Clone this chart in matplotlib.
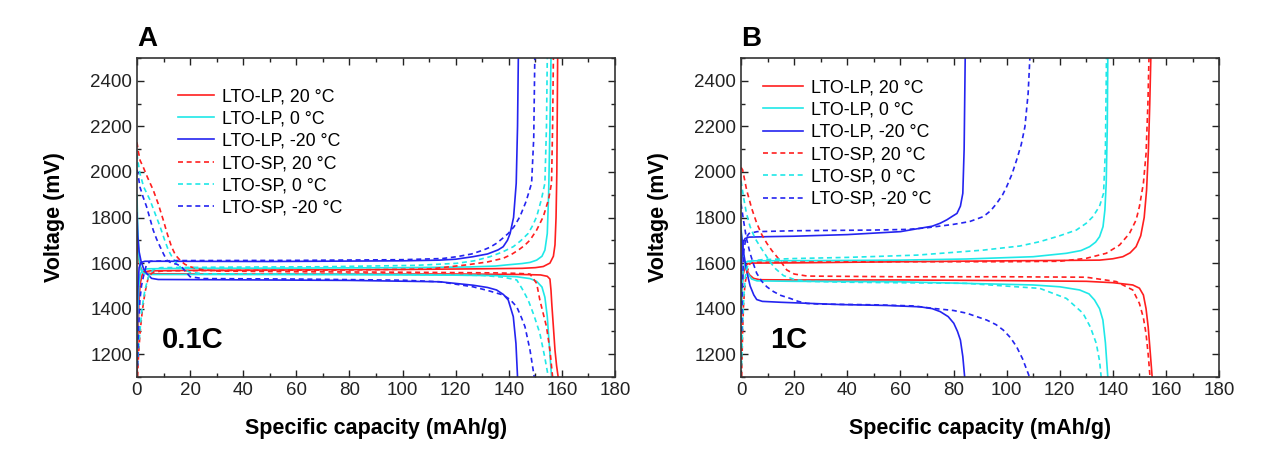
import matplotlib
matplotlib.use("Agg")
import matplotlib.pyplot as plt
from matplotlib.lines import Line2D
from matplotlib.ticker import MultipleLocator

plt.rcParams['font.family'] = ['Liberation Sans', 'DejaVu Sans']

# ---- data: (capacity mAh/g, voltage mV) ----
# panel A, 0.1C
a_lp20_chg = ([0, 0.3, 0.7, 1.2, 2.0, 3.0, 5, 20, 60, 100, 130, 145, 150, 153, 155.5, 156.8, 157.4, 157.8, 158.1, 158.4],
              [1110, 1250, 1420, 1510, 1550, 1562, 1566, 1568, 1570, 1572, 1575, 1577, 1580, 1585, 1600, 1630, 1680, 1800, 2000, 2500])
a_lp20_dis = ([0, 0.4, 1.0, 2.0, 3.5, 6, 30, 80, 120, 145, 152, 154.5, 155.5, 155.9, 156.2, 156.8, 157.4, 158, 158.6],
              [1720, 1640, 1590, 1566, 1556, 1553, 1552, 1552, 1552, 1550, 1548, 1542, 1530, 1480, 1420, 1320, 1218, 1150, 1100])
a_lp0_chg = ([0, 0.3, 0.7, 1.2, 2.0, 4, 20, 60, 100, 125, 135, 139.2, 145, 148, 150.5, 152.5, 153.6, 154.5, 155, 155.5, 155.9],
             [1200, 1380, 1500, 1550, 1568, 1575, 1577, 1578, 1580, 1583, 1587, 1592, 1598, 1603, 1613, 1630, 1657, 1730, 1900, 2200, 2500])
a_lp0_dis = ([0, 0.3, 0.8, 1.5, 2.5, 5, 30, 80, 120, 135, 143, 148, 150.5, 152.5, 153.6, 154.5, 155.2, 156.1],
             [1900, 1750, 1620, 1570, 1555, 1550, 1550, 1549, 1547, 1545, 1540, 1532, 1520, 1495, 1450, 1365, 1250, 1100])
a_lpm20_chg = ([0, 0.3, 0.8, 1.5, 3, 10, 50, 100, 114, 120, 126.5, 132, 136, 137.9, 139.5, 140.5, 141.8, 142.8, 143.3, 143.6],
               [1300, 1480, 1580, 1603, 1608, 1608, 1607, 1610, 1613, 1617, 1628, 1640, 1658, 1672, 1700, 1730, 1800, 1950, 2200, 2500])
a_lpm20_dis = ([0, 0.3, 0.8, 1.5, 2.5, 3.6, 5.5, 8, 30, 80, 114, 126.5, 132, 135.4, 138, 139.8, 141.7, 142.7, 143.3],
               [1820, 1720, 1650, 1610, 1575, 1555, 1533, 1528, 1527, 1524, 1518, 1503, 1493, 1482, 1462, 1438, 1365, 1247, 1100])
a_sp20_chg = ([0.2, 0.6, 1.2, 2.0, 3.0, 4.3, 6, 10, 40, 80, 110, 124, 132, 137.9, 141, 143.6, 146, 148, 150.5, 153, 155, 156.1, 156.5, 156.8],
              [1100, 1200, 1300, 1390, 1470, 1540, 1560, 1566, 1568, 1570, 1574, 1592, 1605, 1621, 1638, 1657, 1678, 1701, 1745, 1804, 1880, 1951, 2200, 2500])
a_sp20_dis = ([0, 0.5, 1.2, 2.4, 4, 6.1, 8, 9.9, 11.5, 13, 14.5, 16.2, 18, 20, 24, 30, 60, 100, 135, 143, 148, 150.5, 151.7, 154.2, 155.5, 156.5],
              [2130, 2090, 2050, 2020, 1975, 1921, 1860, 1789, 1725, 1672, 1635, 1613, 1595, 1584, 1572, 1565, 1562, 1560, 1557, 1555, 1552, 1511, 1438, 1321, 1218, 1100])
a_sp0_chg = ([0.2, 0.6, 1.1, 1.7, 2.4, 3.0, 4.3, 6, 9, 30, 70, 105, 120.4, 127, 132.9, 137.5, 141.7, 144.5, 147.3, 149, 150.5, 152.3, 153.6, 154.2, 154.5],
             [1150, 1220, 1300, 1380, 1440, 1482, 1540, 1570, 1580, 1582, 1584, 1590, 1599, 1610, 1628, 1648, 1672, 1698, 1730, 1765, 1804, 1880, 1951, 2200, 2500])
a_sp0_dis = ([0, 0.3, 1.1, 2.5, 4.9, 6.8, 8.7, 10.3, 11.8, 13.3, 14.9, 17, 20, 25, 60, 100, 130, 138, 143, 145, 147.3, 149.5, 151.7, 153.5, 154.9],
             [2080, 2050, 1994, 1935, 1877, 1818, 1760, 1705, 1657, 1625, 1599, 1575, 1560, 1553, 1552, 1550, 1546, 1538, 1526, 1488, 1438, 1370, 1292, 1190, 1100])
a_spm20_chg = ([0.2, 0.5, 1.1, 1.7, 2.4, 3.5, 5, 15, 60, 100, 115, 120.4, 126, 130.4, 133, 135.4, 137.5, 139.8, 142, 144.2, 146.5, 148.6, 149.4, 149.8],
               [1150, 1280, 1438, 1500, 1540, 1590, 1608, 1611, 1612, 1615, 1620, 1628, 1640, 1657, 1670, 1687, 1707, 1730, 1760, 1804, 1870, 1951, 2150, 2500])
a_spm20_dis = ([0, 0.4, 1.1, 2.3, 3.6, 4.9, 6.1, 7.4, 8.7, 10, 11.2, 13, 15, 16.8, 18.5, 20, 25, 60, 100, 114, 126.5, 132, 137.9, 140.5, 143, 144.8, 146.1, 148, 149.6],
               [2010, 1990, 1935, 1890, 1848, 1795, 1745, 1705, 1672, 1640, 1613, 1600, 1595, 1584, 1560, 1540, 1532, 1530, 1525, 1518, 1496, 1480, 1460, 1440, 1408, 1360, 1321, 1218, 1100])

# panel B, 1C
b_lp20_chg = ([0, 0.3, 0.8, 1.5, 2.5, 4, 20, 60, 100, 135, 140, 143.75, 146.5, 148.75, 150.5, 151.8, 152.7, 153.4, 153.9, 154.3],
              [1380, 1480, 1550, 1585, 1597, 1600, 1601, 1606, 1610, 1613, 1619, 1628, 1645, 1672, 1720, 1800, 1920, 2100, 2300, 2500])
b_lp20_dis = ([0, 0.3, 0.8, 1.5, 2.1, 3.2, 4.7, 7, 20, 60, 100, 130, 140, 147.5, 150, 151.5, 152.5, 153.3, 154, 154.8],
              [1700, 1670, 1630, 1590, 1570, 1548, 1533, 1527, 1526, 1526, 1523, 1520, 1514, 1504, 1490, 1460, 1400, 1320, 1220, 1100])
b_lp0_chg = ([0, 0.3, 0.8, 1.5, 2.5, 5, 30, 60, 85, 110, 122.5, 128, 131.25, 133.5, 135, 136.3, 137, 137.5, 137.9, 138.1],
             [1350, 1480, 1570, 1600, 1608, 1610, 1611, 1613, 1618, 1628, 1643, 1655, 1672, 1692, 1716, 1760, 1833, 1950, 2200, 2500])
b_lp0_dis = ([0, 0.3, 0.8, 1.5, 2.5, 4, 6, 20, 60, 110, 120, 127.5, 131, 133.1, 135, 136.25, 137.2, 138.1],
             [1760, 1700, 1640, 1590, 1555, 1530, 1522, 1520, 1518, 1504, 1496, 1482, 1465, 1438, 1400, 1350, 1250, 1100])
b_lpm20_chg = ([0, 0.3, 0.8, 1.5, 3, 10, 20, 40, 60, 67.5, 72, 75, 77.5, 79.5, 81.3, 82.6, 83.5, 84, 84.4],
               [1500, 1620, 1690, 1708, 1714, 1716, 1718, 1725, 1738, 1753, 1762, 1775, 1790, 1805, 1818, 1850, 1906, 2100, 2500])
b_lpm20_dis = ([0, 0.4, 0.9, 1.6, 2.3, 3.4, 4.8, 5.9, 8, 15, 37.4, 55, 67.5, 72, 75, 78, 80.1, 81.5, 82.6, 83.5, 84.2],
               [1740, 1700, 1650, 1600, 1555, 1500, 1460, 1440, 1432, 1428, 1418, 1414, 1408, 1400, 1387, 1365, 1336, 1300, 1262, 1190, 1100])
b_sp20_chg = ([0.2, 0.4, 0.6, 0.9, 1.4, 2.1, 3.4, 5, 20, 60, 100, 120, 130, 137.5, 142.5, 146.25, 148.75, 150, 151.5, 152.5, 153.2, 153.6],
              [1100, 1200, 1300, 1408, 1500, 1555, 1599, 1603, 1604, 1606, 1606, 1608, 1621, 1643, 1679, 1730, 1789, 1848, 1950, 2080, 2300, 2500])
b_sp20_dis = ([0, 0.6, 2.1, 4, 5.9, 7.8, 9.7, 11.6, 13.5, 15.5, 17.2, 20, 25, 60, 100, 130, 141.25, 147.5, 150, 151.5, 152.5, 153.3, 154],
              [2020, 2009, 1921, 1840, 1775, 1725, 1687, 1655, 1628, 1598, 1570, 1552, 1543, 1540, 1540, 1538, 1519, 1482, 1423, 1360, 1290, 1200, 1100])
b_sp0_chg = ([0.2, 0.5, 1, 1.6, 2.5, 4, 8, 20, 40, 66.25, 91.25, 105, 112.5, 120, 126.25, 130, 132.5, 135, 136.5, 137.2, 137.6],
             [1150, 1300, 1450, 1540, 1590, 1610, 1615, 1620, 1625, 1635, 1657, 1675, 1694, 1720, 1745, 1775, 1804, 1850, 1906, 2100, 2500])
b_sp0_dis = ([0, 0.4, 0.9, 2, 3.4, 5.2, 7.2, 9, 10.9, 13, 16, 20, 25, 40, 85, 112.5, 122.5, 128.75, 131.5, 133.75, 135, 135.6],
             [1960, 1930, 1891, 1820, 1760, 1710, 1672, 1640, 1605, 1575, 1545, 1528, 1520, 1516, 1511, 1489, 1445, 1380, 1320, 1248, 1170, 1100])
b_spm20_chg = ([0.2, 0.5, 1, 1.8, 3, 6, 20, 50, 63, 70, 80, 86, 91.25, 94, 96.25, 98.5, 100, 102, 103.75, 105.5, 106.9, 108.1, 108.75],
               [1300, 1500, 1650, 1710, 1730, 1738, 1742, 1745, 1748, 1755, 1770, 1782, 1804, 1830, 1862, 1900, 1935, 1990, 2052, 2120, 2199, 2345, 2500])
b_spm20_dis = ([0, 0.9, 2, 3.4, 4.7, 5.9, 7.8, 9.7, 12.2, 15, 18.5, 21.5, 24.8, 30, 50, 65, 72.5, 80, 85, 88.5, 92.5, 96, 98.75, 101.5, 103.75, 106, 108.1, 108.6],
               [1860, 1789, 1710, 1643, 1595, 1555, 1520, 1496, 1475, 1458, 1445, 1432, 1423, 1420, 1417, 1412, 1401, 1392, 1380, 1366, 1350, 1330, 1306, 1272, 1233, 1180, 1116, 1100])

labels = ["LTO-LP, 20 °C", "LTO-LP, 0 °C", "LTO-LP, -20 °C",
          "LTO-SP, 20 °C", "LTO-SP, 0 °C", "LTO-SP, -20 °C"]

RED, CYAN, BLUE = "#ff1f1f", "#1fe8e8", "#2424f0"
styles = [(RED, "-"), (CYAN, "-"), (BLUE, "-"),
          (RED, "--"), (CYAN, "--"), (BLUE, "--")]

panel_a = [(a_lp20_chg, a_lp20_dis), (a_lp0_chg, a_lp0_dis), (a_lpm20_chg, a_lpm20_dis),
           (a_sp20_chg, a_sp20_dis), (a_sp0_chg, a_sp0_dis), (a_spm20_chg, a_spm20_dis)]
panel_b = [(b_lp20_chg, b_lp20_dis), (b_lp0_chg, b_lp0_dis), (b_lpm20_chg, b_lpm20_dis),
           (b_sp20_chg, b_sp20_dis), (b_sp0_chg, b_sp0_dis), (b_spm20_chg, b_spm20_dis)]

LW = 1.2
DASH = (3.0, 2.2)


def draw_panel(ax, curves, letter, rate, rate_x, leg_anchor, handlelen):
    for (chg, dis), (col, ls) in zip(curves, styles):
        for q, v in (chg, dis):
            ln, = ax.plot(q, v, color=col, lw=LW, ls=ls)
            if ls == "--":
                ln.set_dashes(DASH)
    ax.set_xlim(0, 180)
    ax.set_ylim(1100, 2500)
    ax.xaxis.set_major_locator(MultipleLocator(20))
    ax.xaxis.set_minor_locator(MultipleLocator(10))
    ax.yaxis.set_major_locator(MultipleLocator(200))
    ax.yaxis.set_minor_locator(MultipleLocator(100))
    ax.tick_params(which="both", direction="in", top=True, right=True,
                   labelsize=13.5, width=1.0, colors="#222222")
    ax.tick_params(which="major", length=5)
    ax.tick_params(which="minor", length=3)
    for s in ax.spines.values():
        s.set_linewidth(1.2)
        s.set_color("#333333")
    ax.set_xlabel("Specific capacity (mAh/g)", fontsize=15.5, fontweight="bold", labelpad=14)
    ax.set_ylabel("Voltage (mV)", fontsize=15.5, fontweight="bold", labelpad=18)
    ax.text(0.0, 1.02, letter, transform=ax.transAxes, fontsize=20,
            fontweight="bold", ha="left", va="bottom")
    ax.text(rate_x, 0.116, rate, transform=ax.transAxes, fontsize=21,
            fontweight="bold", ha="left", va="center")

    handles = []
    for col, ls in styles:
        h = Line2D([], [], color=col, lw=LW, ls=ls)
        if ls == "--":
            h.set_dashes(DASH)
        handles.append(h)
    ax.legend(handles, labels, loc="upper left", bbox_to_anchor=leg_anchor,
              frameon=False, fontsize=12.8, handlelength=handlelen,
              handletextpad=0.45, labelspacing=0.3, borderpad=0, borderaxespad=0)


fig = plt.figure(figsize=(12.85, 4.59), dpi=100)
ax_a = fig.add_axes([0.1066, 0.1786, 0.372, 0.695])
ax_b = fig.add_axes([0.5767, 0.1786, 0.372, 0.695])

draw_panel(ax_a, panel_a, "A", "0.1C", 0.052, (0.086, 0.906), 2.0)
draw_panel(ax_b, panel_b, "B", "1C", 0.061, (0.046, 0.934), 2.25)

fig.savefig("out.png", dpi=100)
